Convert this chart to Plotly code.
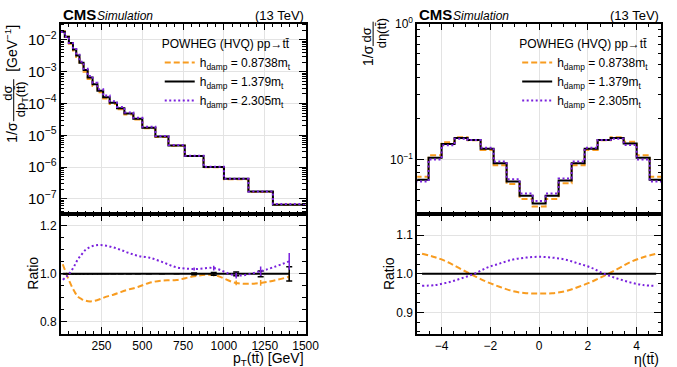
import plotly.graph_objects as go

W, H = 677, 367
def px(x): return x / W
def py(y): return 1 - y / H

ORANGE = "#f89c20"
PURPLE = "#7a21dd"
BLACK = "#000000"
FONT = "Liberation Sans, Arial, sans-serif"

# ---------------- data: pT(tt) ----------------
pt_edges = [0, 25, 50, 75, 95, 115, 140, 165, 195, 225, 260, 300, 345, 390, 445, 500,
            580, 660, 760, 875, 1000, 1150, 1300, 1500]
pt_nominal = [1.8e-2, 1.26e-2, 7.9e-3, 5.0e-3, 3.2e-3, 1.9e-3, 1.12e-3, 6.6e-4, 4.0e-4,
              2.5e-4, 1.58e-4, 1.05e-4, 7.1e-5, 4.8e-5, 3.3e-5, 1.74e-5, 9.1e-6, 4.8e-6,
              2.24e-6, 1.0e-6, 4.3e-7, 1.7e-7, 6.6e-8]
pt_ratio_low = [1.04, 0.995, 0.955, 0.925, 0.905, 0.895, 0.888, 0.885, 0.888, 0.895, 0.905,
                0.913, 0.924, 0.935, 0.945, 0.962, 0.972, 0.974, 0.99, 0.995, 0.962, 0.962, 0.988]
pt_ratio_high = [0.975, 0.99, 1.01, 1.035, 1.06, 1.08, 1.10, 1.112, 1.118, 1.12, 1.117, 1.11,
                 1.10, 1.087, 1.075, 1.068, 1.05, 1.027, 1.02, 1.024, 0.993, 1.011, 1.052]
pt_err_nom = [0]*18 + [0.004, 0.006, 0.008, 0.012, 0.03]
pt_err_low = [0]*19 + [0.006, 0.01, 0.012, 0.02]
pt_err_high = [0]*18 + [0.006, 0.01, 0.012, 0.02, 0.035]
pt_ticks = [250, 500, 750, 1000, 1250, 1500]

# ---------------- data: eta(tt) ----------------
eta_edges = [-5.0667, -4.5333, -4.0, -3.4667, -2.9333, -2.4, -1.8667, -1.3333, -0.8, -0.2667,
             0.2667, 0.8, 1.3333, 1.8667, 2.4, 2.9333, 3.4667, 4.0, 4.5333, 5.0667]
eta_nominal = [0.071, 0.103, 0.130, 0.144, 0.139, 0.120, 0.094, 0.069, 0.054, 0.0475,
               0.054, 0.070, 0.094, 0.120, 0.139, 0.144, 0.131, 0.103, 0.071]
eta_ratio_low = [1.052, 1.043, 1.03, 1.012, 0.995, 0.979, 0.966, 0.955, 0.95, 0.949,
                 0.95, 0.955, 0.966, 0.979, 0.995, 1.012, 1.03, 1.043, 1.052]
eta_ratio_high = [0.969, 0.971, 0.978, 0.988, 1.0, 1.016, 1.027, 1.037, 1.042, 1.044,
                  1.042, 1.037, 1.027, 1.016, 1.0, 0.988, 0.978, 0.971, 0.969]
eta_ticks = [-4, -2, 0, 2, 4]

labels = ["h<sub>damp</sub> = 0.8738m<sub>t</sub>",
          "h<sub>damp</sub> = 1.379m<sub>t</sub>",
          "h<sub>damp</sub> = 2.305m<sub>t</sub>"]
colors = [ORANGE, BLACK, PURPLE]
dashes = ["6px,3px", "solid", "2px,2.5px"]

def centers(e):
    return [(e[i] + e[i+1]) / 2 for i in range(len(e) - 1)]

fig = go.Figure()

def add_panel(edges, nominal, rlow, rhigh, xa_top, ya_top, xa_rat, ya_rat, legend,
              elow=None, enom=None, ehigh=None):
    c = centers(edges)
    n = len(nominal)
    hists = [[nominal[i] * rlow[i] for i in range(n)], nominal,
             [nominal[i] * rhigh[i] for i in range(n)]]
    ratios = [rlow, [nominal[i] / nominal[i] for i in range(n)], rhigh]
    errs = [elow, enom, ehigh]
    for k in range(3):
        fig.add_trace(go.Scatter(
            x=edges, y=hists[k] + [hists[k][-1]], mode="lines", line_shape="hv",
            line=dict(color=colors[k], width=2, dash=dashes[k]),
            name=labels[k], legend=legend, xaxis=xa_top, yaxis=ya_top, showlegend=True))
    for k in range(3):
        kw = {}
        if errs[k] is not None:
            kw["error_y"] = dict(type="data", array=errs[k], visible=True,
                                 color=colors[k], thickness=1.5, width=3 if k == 1 else 0)
        fig.add_trace(go.Scatter(
            x=c, y=ratios[k], mode="lines", line_shape="spline" if k != 1 else "linear",
            line=dict(color=colors[k], width=2, dash=dashes[k]),
            showlegend=False, xaxis=xa_rat, yaxis=ya_rat, **kw))

add_panel(pt_edges, pt_nominal, pt_ratio_low, pt_ratio_high, "x", "y", "x2", "y2", "legend",
          pt_err_low, pt_err_nom, pt_err_high)
add_panel(eta_edges, eta_nominal, eta_ratio_low, eta_ratio_high, "x3", "y3", "x4", "y4", "legend2")

# ---------------- layout ----------------
L0, L1 = px(62), px(312)
R0, R1 = px(426), px(675)
T0, T1 = py(210), py(15)
B0, B1 = py(333), py(210)

common = dict(showline=True, linecolor="black", linewidth=1.5, mirror="allticks",
              ticks="inside", ticklen=7, tickwidth=1, tickcolor="black",
              showgrid=True, gridcolor="#e3e3e3", gridwidth=1, zeroline=False,
              tickfont=dict(size=12, family=FONT, color="black"))

def minor_lin(t0, d):
    return dict(ticks="inside", ticklen=3.5, tickwidth=1, tickcolor="black",
                tickmode="linear", tick0=t0, dtick=d, showgrid=False)

minor_log = dict(ticks="inside", ticklen=3.5, tickwidth=1, tickcolor="black",
                 dtick="D1", showgrid=False)

fig.update_layout(
    width=W, height=H, margin=dict(l=0, r=0, t=0, b=0),
    paper_bgcolor="white", plot_bgcolor="white",
    font=dict(family=FONT, size=12, color="black"),
    xaxis=dict(domain=[L0, L1], anchor="y", range=[0, 1500], matches="x2",
               showticklabels=False, tickmode="array", tickvals=pt_ticks,
               minor=minor_lin(0, 50), **common),
    yaxis=dict(domain=[T0, T1], anchor="x", type="log", range=[-7.47, -1.49],
               dtick=1, exponentformat="power", minor=minor_log, **common),
    xaxis2=dict(domain=[L0, L1], anchor="y2", range=[0, 1500],
                tickmode="array", tickvals=pt_ticks, minor=minor_lin(0, 50), **common),
    yaxis2=dict(domain=[B0, B1], anchor="x2", range=[0.75, 1.25],
                tickmode="array", tickvals=[0.8, 1.0, 1.2], tickformat=".1f",
                minor=minor_lin(0.75, 0.05), **common),
    xaxis3=dict(domain=[R0, R1], anchor="y3", range=[-5, 5], matches="x4",
                showticklabels=False, tickmode="array", tickvals=eta_ticks,
                minor=minor_lin(-5, 0.5), **common),
    yaxis3=dict(domain=[T0, T1], anchor="x3", type="log", range=[-1.4, 0],
                tickmode="array", tickvals=[0.1, 1],
                ticktext=["10<sup>−1</sup>", "10<sup>0</sup>"], minor=minor_log, **common),
    xaxis4=dict(domain=[R0, R1], anchor="y4", range=[-5, 5],
                tickmode="array", tickvals=eta_ticks, minor=minor_lin(-5, 0.5), **common),
    yaxis4=dict(domain=[B0, B1], anchor="x4", range=[0.845, 1.155],
                tickmode="array", tickvals=[0.9, 1.0, 1.1], tickformat=".1f",
                minor=minor_lin(0.85, 0.025), **common),
    legend=dict(x=px(303), y=py(24), xanchor="right", yanchor="top",
                bgcolor="rgba(0,0,0,0)", font=dict(size=12, family=FONT),
                title=dict(text="POWHEG (HVQ) pp→tt\u0304", font=dict(size=12, family=FONT)),
                tracegroupgap=0),
    legend2=dict(x=px(668), y=py(24), xanchor="right", yanchor="top",
                 bgcolor="rgba(0,0,0,0)", font=dict(size=12, family=FONT),
                 title=dict(text="POWHEG (HVQ) pp→tt\u0304", font=dict(size=12, family=FONT)),
                 tracegroupgap=0),
)

ann = []
def text(x, y, s, size=14, xanchor="center", yanchor="middle", angle=0, **kw):
    ann.append(dict(x=px(x), y=py(y), xref="paper", yref="paper", text=s, showarrow=False,
                    xanchor=xanchor, yanchor=yanchor, textangle=angle,
                    font=dict(size=size, family=FONT, color="black"), **kw))

# headers
for x0, x1 in [(62, 312), (426, 675)]:
    text(x0, 6, "<b>CMS</b>", size=15, xanchor="left")
    text(x0 + 35, 7, "<i>Simulation</i>", size=12, xanchor="left")
    text(x1, 7, "(13 TeV)", size=13, xanchor="right")

# x titles
text(312, 359, "p<sub>T</sub>(tt\u0304) [GeV]", size=14, xanchor="right")
text(675, 359, "η(tt\u0304)", size=14, xanchor="right")

# ratio y titles
text(34, 271, "Ratio", size=14, angle=-90)
text(398, 271, "Ratio", size=14, angle=-90)

# left top y title (fraction)
text(11, 40, "[GeV<sup>−1</sup>]", size=14, angle=-90)
text(8, 86, "dσ", size=13, angle=-90)
text(22, 93, "dp<sub>T</sub>(tt\u0304)", size=13, angle=-90)
text(12, 126, "1/σ", size=14, angle=-90)
# right top y title
text(374, 27, "dσ", size=13, angle=-90)
text(389, 25, "dη(tt\u0304)", size=13, angle=-90)
text(376, 48, "1/σ", size=14, angle=-90)

fig.update_layout(annotations=ann)
fig.add_shape(type="line", xref="paper", yref="paper", x0=px(14), x1=px(14),
              y0=py(72), y1=py(115), line=dict(color="black", width=1))
fig.add_shape(type="line", xref="paper", yref="paper", x0=px(381), x1=px(381),
              y0=py(13), y1=py(38), line=dict(color="black", width=1))

post = """
var st=document.createElement('style');
st.innerHTML='html,body{margin:0;padding:0;overflow:hidden;}';
document.head.appendChild(st);
"""
fig.write_html("out.html", config={"displayModeBar": False}, post_script=post)
